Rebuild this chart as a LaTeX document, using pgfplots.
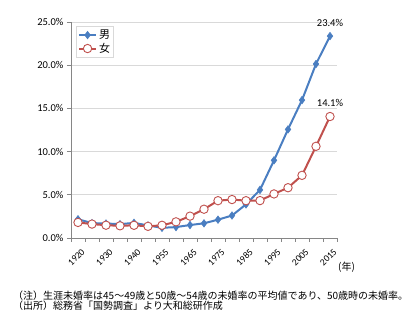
\documentclass[border=0pt]{standalone}
\usepackage{pgfplots}
\pgfplotsset{compat=1.18}
\usepackage{fontspec}
\setmainfont{Carlito}
\newfontfamily\jp{Noto Sans CJK JP}
\definecolor{male}{RGB}{74,126,193}
\definecolor{female}{RGB}{192,80,77}
\definecolor{gridc}{RGB}{217,217,217}
\definecolor{axc}{RGB}{134,134,134}
\begin{document}
\begin{tikzpicture}[x=1pt,y=1pt]
\path[use as bounding box] (0,0) rectangle (418,323);
\begin{axis}[
  at={(71pt,85pt)}, anchor=south west,
  scale only axis, width=266pt, height=216pt,
  xmin=-0.5, xmax=18.5, ymin=0, ymax=25,
  axis x line*=bottom, axis y line*=left,
  axis line style={axc, line width=0.8pt},
  xtick={0,2,...,18},
  xticklabels={1920,1930,1940,1955,1965,1975,1985,1995,2005,2015},
  major x tick style={draw=none},
  minor xtick={-0.5,0.5,...,18.5},
  minor tick length=4pt,
  minor tick style={axc, line width=0.6pt},
  ytick={0,5,...,25},
  major tick length=4pt,
  major y tick style={axc, line width=0.6pt},
  tick align=outside,
  ymajorgrids, grid style={gridc, line width=0.8pt},
  yticklabel={\pgfmathprintnumber[fixed,fixed zerofill,precision=1]{\tick}\%},
  /pgf/number format/assume math mode=true,
  xticklabel style={font=\fontsize{9.5}{10}\selectfont, inner sep=0pt, xshift=3pt, yshift=-6pt, rotate=45, anchor=north east},
  yticklabel style={font=\fontsize{10.5}{11}\selectfont},
  legend style={at={(0.02,0.98)}, anchor=north west, draw=gridc, font=\fontsize{11}{12}\selectfont\jp, inner sep=1.5pt, row sep=-1pt, cells={anchor=west}},
  legend cell align=left,
  clip=false,
]
\addplot[male, line width=2pt, mark=diamond*, mark size=3.8pt, mark options={fill=male, draw=male, line width=0.5pt}]
coordinates {(0,2.17) (1,1.72) (2,1.68) (3,1.60) (4,1.75) (5,1.45) (6,1.18) (7,1.26) (8,1.50) (9,1.70) (10,2.12) (11,2.60) (12,3.89) (13,5.57) (14,8.99) (15,12.57) (16,15.96) (17,20.14) (18,23.37)};
\addlegendentry{男}
\addplot[female, line width=2pt, mark=*, mark size=4.2pt, mark options={fill=white, draw=female, line width=0.9pt}]
coordinates {(0,1.80) (1,1.61) (2,1.48) (3,1.41) (4,1.47) (5,1.35) (6,1.47) (7,1.87) (8,2.53) (9,3.33) (10,4.32) (11,4.45) (12,4.32) (13,4.33) (14,5.10) (15,5.82) (16,7.25) (17,10.61) (18,14.06)};
\addlegendentry{女}
\node[anchor=south, font=\fontsize{10.5}{11}\selectfont, yshift=6pt] at (axis cs:18,23.37) {23.4\%};
\node[anchor=south, font=\fontsize{10.5}{11}\selectfont, yshift=6pt] at (axis cs:18,14.06) {14.1\%};
\end{axis}
\node[anchor=west, font=\fontsize{10}{11}\selectfont\jp, inner sep=0pt] at (338,56) {(年)};
\node[anchor=west, font=\fontsize{10}{11}\selectfont\jp, inner sep=0pt] at (13,27) {（注）生涯未婚率は45～49歳と50歳～54歳の未婚率の平均値であり、50歳時の未婚率。};
\node[anchor=west, font=\fontsize{10}{11}\selectfont\jp, inner sep=0pt] at (13,17.5) {（出所）総務省「国勢調査」より大和総研作成};
\end{tikzpicture}
\end{document}
